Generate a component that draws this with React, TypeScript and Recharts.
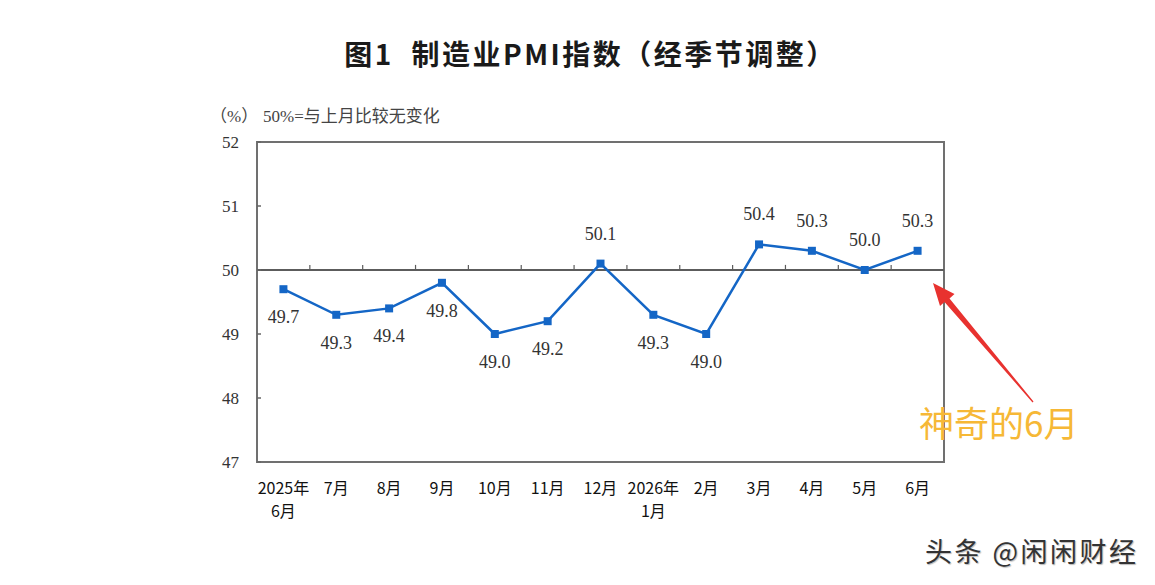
import React from 'react';
import { LineChart, Line, XAxis, YAxis, ReferenceLine, ReferenceArea, LabelList } from 'recharts';

// month labels, "\n" splits into two lines
const months = ['2025年\n6月', '7月', '8月', '9月', '10月', '11月', '12月', '2026年\n1月', '2月', '3月', '4月', '5月', '6月'];
const pmi = [49.7, 49.3, 49.4, 49.8, 49.0, 49.2, 50.1, 49.3, 49.0, 50.4, 50.3, 50.0, 50.3];
const yTicks = [47, 48, 49, 50, 51, 52];

const data = months.map((m, i) => ({ month: m, pmi: pmi[i] }));

const BLUE = '#1466c6';
const AXIS = '#666';
const CJK = '"Noto Sans CJK SC", "Noto Sans", sans-serif';
const SERIF = '"Liberation Serif", "DejaVu Serif", "Noto Sans CJK SC", serif';

const YTick = (props: any) => {
  const { x, y, payload } = props;
  return (
    <g>
      <line x1={x} x2={x + 4} y1={y} y2={y} stroke={AXIS} strokeWidth={1.5} />
      <text x={x - 18} y={y} dy={6} textAnchor="end" fontFamily={SERIF} fontSize={17} fill="#333">
        {payload.value}
      </text>
    </g>
  );
};

const XTick = (props: any) => {
  const { x, y, payload } = props;
  const lines = String(payload.value).split('\n');
  return (
    <g>
      {lines.map((t, i) => (
        <text key={i} x={x} y={y + 32 + i * 23} textAnchor="middle" fontFamily={CJK} fontSize={16} fill="#111">
          {t}
        </text>
      ))}
    </g>
  );
};

const SquareDot = (props: any) => {
  const { cx, cy } = props;
  if (cx == null || cy == null) return null;
  return <rect x={cx - 4} y={cy - 4} width={8} height={8} fill={BLUE} />;
};

// values at or above 50 get their label above the point, the rest below
const PointLabel = (props: any) => {
  const { x, y, value } = props;
  const above = value >= 50;
  return (
    <text x={x} y={above ? y - 24 : y + 34} textAnchor="middle" fontFamily={SERIF} fontSize={18} fill="#333">
      {Number(value).toFixed(1)}
    </text>
  );
};

export default function App() {
  return (
    <div style={{ position: 'absolute', left: 0, top: 0, width: 1155, height: 585, background: '#fff', overflow: 'hidden' }}>
      <div
        style={{
          position: 'absolute', left: 0, top: 33, width: 1181, height: 40, lineHeight: '40px', whiteSpace: 'pre',
          textAlign: 'center', fontFamily: CJK, fontWeight: 700, fontSize: 28, letterSpacing: 2.5, color: '#1a1a1a',
        }}
      >
        图1  制造业PMI指数（经季节调整）
      </div>
      <div style={{ position: 'absolute', left: 210, top: 102, fontFamily: SERIF, fontSize: 17, color: '#444', whiteSpace: 'pre' }}>
        （%）
      </div>
      <div style={{ position: 'absolute', left: 263, top: 102, fontFamily: SERIF, fontSize: 17, color: '#444', whiteSpace: 'pre' }}>
        50%=与上月比较无变化
      </div>

      <div style={{ position: 'absolute', left: 0, top: 0 }}>
        <LineChart width={1155} height={585} data={data} margin={{ top: 142, right: 211, bottom: 63, left: 197 }}>
          <XAxis
            dataKey="month"
            scale="band"
            height={60}
            axisLine={false}
            tickLine={false}
            tickSize={0}
            tickMargin={0}
            interval={0}
            tick={<XTick />}
          />
          <YAxis
            type="number"
            domain={[47, 52]}
            ticks={yTicks}
            width={60}
            axisLine={false}
            tickLine={false}
            tickSize={0}
            tickMargin={0}
            tick={<YTick />}
          />
          <ReferenceArea y1={47} y2={52} fill="none" stroke="#707070" strokeWidth={2} />
          <ReferenceLine y={50} stroke="#5c5c5c" strokeWidth={2} />
          {months.slice(1).map((m) => (
            <ReferenceLine
              key={m}
              segment={[{ x: m, y: 50 }, { x: m, y: 50.08 }]}
              position="start"
              stroke="#5c5c5c"
              strokeWidth={1.2}
            />
          ))}
          <Line
            type="linear"
            dataKey="pmi"
            stroke={BLUE}
            strokeWidth={2.5}
            dot={<SquareDot />}
            activeDot={false}
            isAnimationActive={false}
          >
            <LabelList dataKey="pmi" content={<PointLabel />} />
          </Line>
        </LineChart>
      </div>

      <svg width={1155} height={585} style={{ position: 'absolute', left: 0, top: 0, pointerEvents: 'none' }}>
        <polygon
          points="933,283 954.5,294 949.5,298.5 1033.5,401.6 1032.5,402.4 944.5,302 940,306"
          fill="#e8322f"
        />
      </svg>
      <div style={{ position: 'absolute', left: 919, top: 399, fontFamily: CJK, fontSize: 35, lineHeight: '46px', color: '#f6b836' }}>
        神奇的6月
      </div>
      <div
        style={{
          position: 'absolute', left: 925, top: 534, fontFamily: CJK, fontSize: 27, lineHeight: '34px', letterSpacing: 2.5,
          color: '#333', textShadow: '1px 1px 1px #bbb',
        }}
      >
        头条 @闲闲财经
      </div>
    </div>
  );
}
